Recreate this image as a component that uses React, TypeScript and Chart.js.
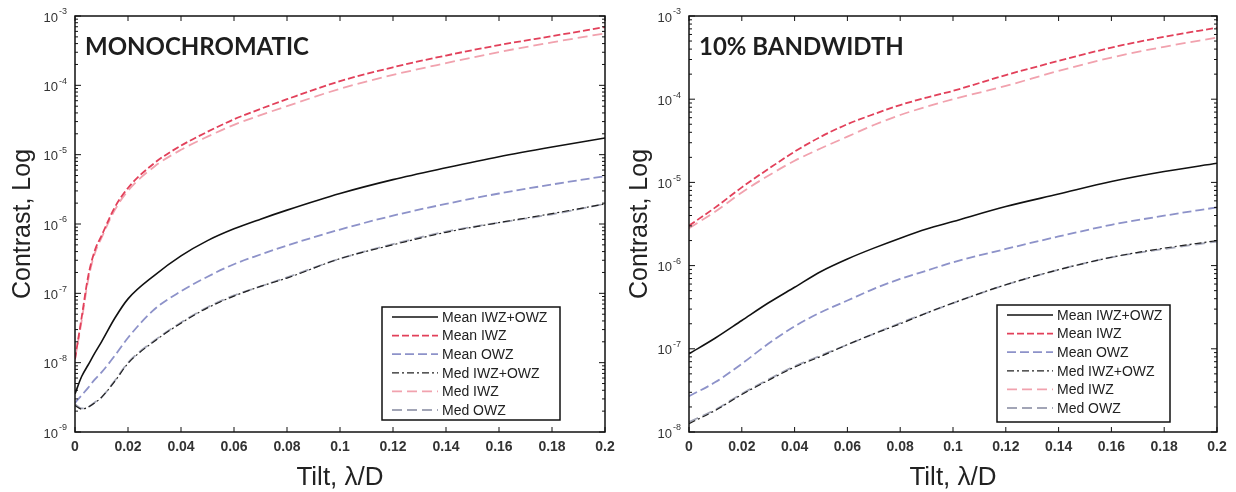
import React, { useEffect, useRef } from 'react';
import { Chart, registerables } from 'chart.js';

Chart.register(...registerables);

// ---------- DATA ----------
const seriesLabels = ['Mean IWZ+OWZ', 'Mean IWZ', 'Mean OWZ', 'Med IWZ+OWZ', 'Med IWZ', 'Med OWZ'];
const xTickValues = [0, 0.02, 0.04, 0.06, 0.08, 0.1, 0.12, 0.14, 0.16, 0.18, 0.2];
const xTickLabels = ['0', '0.02', '0.04', '0.06', '0.08', '0.1', '0.12', '0.14', '0.16', '0.18', '0.2'];

// Monochromatic panel (values are log10 of contrast)
const tiltMono = [0, 0.0025, 0.005, 0.0075, 0.01, 0.015, 0.02, 0.03, 0.04, 0.05, 0.06, 0.07, 0.08, 0.1, 0.12, 0.14, 0.16, 0.18, 0.2];
const monoMeanAll = [-8.45, -8.2, -8.03, -7.86, -7.7, -7.36, -7.08, -6.74, -6.46, -6.24, -6.07, -5.93, -5.8, -5.56, -5.36, -5.19, -5.03, -4.89, -4.76];
const monoMeanIWZ = [-7.95, -7.35, -6.75, -6.38, -6.17, -5.76, -5.48, -5.12, -4.87, -4.67, -4.49, -4.34, -4.2, -3.94, -3.74, -3.57, -3.42, -3.29, -3.16];
const monoMeanOWZ = [-8.58, -8.47, -8.36, -8.24, -8.14, -7.9, -7.64, -7.23, -6.97, -6.76, -6.58, -6.44, -6.31, -6.08, -5.88, -5.71, -5.56, -5.43, -5.31];
const monoMedAll = [-8.62, -8.67, -8.64, -8.58, -8.5, -8.27, -8.01, -7.69, -7.43, -7.21, -7.04, -6.9, -6.78, -6.5, -6.3, -6.12, -5.98, -5.85, -5.71];
const monoMedIWZ = [-7.95, -7.4, -6.8, -6.42, -6.2, -5.8, -5.52, -5.17, -4.93, -4.74, -4.57, -4.43, -4.3, -4.05, -3.85, -3.68, -3.52, -3.38, -3.25];
const monoMedOWZ = [-8.6, -8.66, -8.64, -8.57, -8.5, -8.26, -8.0, -7.68, -7.42, -7.2, -7.03, -6.9, -6.77, -6.5, -6.29, -6.11, -5.98, -5.86, -5.71];

// 10% bandwidth panel (values are log10 of contrast)
const tiltBand = [0, 0.01, 0.02, 0.03, 0.04, 0.05, 0.06, 0.07, 0.08, 0.09, 0.1, 0.12, 0.14, 0.16, 0.18, 0.2];
const bandMeanAll = [-7.06, -6.87, -6.66, -6.45, -6.26, -6.07, -5.92, -5.79, -5.67, -5.56, -5.47, -5.29, -5.14, -4.99, -4.87, -4.77];
const bandMeanIWZ = [-5.52, -5.3, -5.06, -4.84, -4.63, -4.45, -4.3, -4.18, -4.07, -3.98, -3.9, -3.71, -3.54, -3.38, -3.25, -3.14];
const bandMeanOWZ = [-7.57, -7.4, -7.18, -6.94, -6.73, -6.56, -6.42, -6.28, -6.16, -6.06, -5.96, -5.8, -5.65, -5.51, -5.4, -5.3];
const bandMedAll = [-7.9, -7.74, -7.55, -7.38, -7.22, -7.09, -6.95, -6.82, -6.7, -6.57, -6.45, -6.23, -6.05, -5.9, -5.79, -5.7];
const bandMedIWZ = [-5.55, -5.35, -5.12, -4.92, -4.74, -4.59, -4.45, -4.31, -4.19, -4.09, -4.0, -3.84, -3.66, -3.5, -3.37, -3.26];
const bandMedOWZ = [-7.88, -7.73, -7.54, -7.37, -7.21, -7.08, -6.95, -6.82, -6.69, -6.57, -6.45, -6.23, -6.05, -5.9, -5.8, -5.71];

const seriesStyles = [
  { color: '#111111', dash: [] as number[], width: 1.6 },
  { color: '#e2405a', dash: [7, 3], width: 1.8 },
  { color: '#8d92c9', dash: [9, 4], width: 1.8 },
  { color: '#222222', dash: [7, 3, 2, 3], width: 1.2 },
  { color: '#f1a2ae', dash: [10, 5], width: 1.8 },
  { color: '#a2a5b6', dash: [10, 5], width: 1.8 },
];

const FONT = '"Liberation Sans", Arial, sans-serif';

type PanelCfg = {
  title: string;
  tilt: number[];
  series: number[][];
  minExp: number;
  maxExp: number;
  canvasLeft: number;
  canvasWidth: number;
  axisWidth: number;
  padRight: number;
  yTitleX: number;
  legend: { dx: number; dy: number; w: number; h: number };
};

const panels: PanelCfg[] = [
  {
    title: 'MONOCHROMATIC',
    tilt: tiltMono,
    series: [monoMeanAll, monoMeanIWZ, monoMeanOWZ, monoMedAll, monoMedIWZ, monoMedOWZ],
    minExp: -9,
    maxExp: -3,
    canvasLeft: 0,
    canvasWidth: 615,
    axisWidth: 75,
    padRight: 10,
    yTitleX: 30,
    legend: { dx: -223, dy: -125, w: 178, h: 113 },
  },
  {
    title: '10% BANDWIDTH',
    tilt: tiltBand,
    series: [bandMeanAll, bandMeanIWZ, bandMeanOWZ, bandMedAll, bandMedIWZ, bandMedOWZ],
    minExp: -8,
    maxExp: -3,
    canvasLeft: 615,
    canvasWidth: 621,
    axisWidth: 74,
    padRight: 19,
    yTitleX: 32,
    legend: { dx: -220, dy: -127, w: 173, h: 117 },
  },
];

function makeDecor(cfg: PanelCfg) {
  return {
    id: 'decor',
    afterDatasetsDraw(chart: any) {
      const { ctx, chartArea } = chart;
      const { left, right, top, bottom } = chartArea;
      const x = chart.scales.x;
      const y = chart.scales.y;
      const line = (x1: number, y1: number, x2: number, y2: number) => {
        ctx.beginPath();
        ctx.moveTo(x1, y1);
        ctx.lineTo(x2, y2);
        ctx.stroke();
      };
      ctx.save();
      // frame
      ctx.strokeStyle = '#111';
      ctx.lineWidth = 1.5;
      ctx.setLineDash([]);
      ctx.strokeRect(left, top, right - left, bottom - top);
      ctx.lineWidth = 1;
      // x ticks
      xTickValues.forEach((v) => {
        const px = x.getPixelForValue(v);
        line(px, bottom, px, bottom - 5);
        line(px, top, px, top + 5);
      });
      // y ticks
      for (let e = cfg.minExp; e <= cfg.maxExp; e++) {
        const py = y.getPixelForValue(Math.pow(10, e));
        line(left, py, left + 6, py);
        line(right, py, right - 6, py);
        if (e < cfg.maxExp) {
          for (let m = 2; m <= 9; m++) {
            const pm = y.getPixelForValue(m * Math.pow(10, e));
            line(left, pm, left + 3, pm);
            line(right, pm, right - 3, pm);
          }
        }
      }
      // x tick labels
      ctx.fillStyle = '#333';
      ctx.font = `bold 14px ${FONT}`;
      ctx.textAlign = 'center';
      ctx.textBaseline = 'middle';
      xTickValues.forEach((v, i) => {
        ctx.fillText(xTickLabels[i], x.getPixelForValue(v), bottom + 15);
      });
      // y tick labels 10^n
      for (let e = cfg.minExp; e <= cfg.maxExp; e++) {
        const py = y.getPixelForValue(Math.pow(10, e));
        ctx.font = `13px ${FONT}`;
        ctx.textAlign = 'right';
        ctx.fillText('10', left - 17, py + 2);
        ctx.font = `9px ${FONT}`;
        ctx.textAlign = 'left';
        ctx.fillText('-' + Math.abs(e), left - 16, py - 4);
      }
      // axis titles
      ctx.fillStyle = '#222';
      ctx.font = `26px ${FONT}`;
      ctx.textAlign = 'center';
      ctx.textBaseline = 'alphabetic';
      ctx.fillText('Tilt, λ/D', (left + right) / 2, 485);
      ctx.save();
      ctx.translate(cfg.yTitleX, (top + bottom) / 2);
      ctx.rotate(-Math.PI / 2);
      ctx.font = `25px ${FONT}`;
      ctx.fillText('Contrast, Log', 0, 0);
      ctx.restore();
      // panel annotation
      ctx.font = `bold 24px Lato, ${FONT}`;
      ctx.textAlign = 'left';
      ctx.fillStyle = '#1e1e1e';
      ctx.fillText(cfg.title, left + 10, top + 39);
      // legend
      const lb = cfg.legend;
      const bx = right + lb.dx;
      const by = bottom + lb.dy;
      ctx.fillStyle = '#fff';
      ctx.fillRect(bx, by, lb.w, lb.h);
      ctx.strokeStyle = '#111';
      ctx.lineWidth = 1.5;
      ctx.strokeRect(bx, by, lb.w, lb.h);
      const ds = chart.data.datasets;
      ds.forEach((d: any, i: number) => {
        const ly = by + 10 + i * 18.6;
        ctx.strokeStyle = d.borderColor;
        ctx.lineWidth = d.borderWidth;
        ctx.setLineDash(d.borderDash || []);
        line(bx + 10, ly, bx + 56, ly);
        ctx.setLineDash([]);
        ctx.fillStyle = '#222';
        ctx.font = `14px ${FONT}`;
        ctx.textAlign = 'left';
        ctx.textBaseline = 'middle';
        ctx.fillText(d.label, bx + 60, ly + 1);
      });
      ctx.restore();
    },
  };
}

function Panel({ cfg }: { cfg: PanelCfg }) {
  const ref = useRef<HTMLCanvasElement>(null);
  useEffect(() => {
    const canvas = ref.current!;
    const datasets = cfg.series.map((vals, i) => ({
      label: seriesLabels[i],
      data: vals.map((v, j) => ({ x: cfg.tilt[j], y: Math.pow(10, v) })),
      borderColor: seriesStyles[i].color,
      borderDash: seriesStyles[i].dash,
      borderWidth: seriesStyles[i].width,
      pointRadius: 0,
      fill: false,
      cubicInterpolationMode: 'monotone' as const,
    }));
    const chart = new Chart(canvas, {
      type: 'line',
      data: { datasets },
      options: {
        animation: false,
        responsive: false,
        maintainAspectRatio: false,
        layout: { padding: { left: 0, right: cfg.padRight, top: 16, bottom: 0 } },
        plugins: { legend: { display: false }, tooltip: { enabled: false } },
        scales: {
          x: {
            type: 'linear',
            min: 0,
            max: 0.2,
            ticks: { display: false },
            grid: { display: false },
            border: { display: false },
            afterFit: (a: any) => {
              a.height = 60;
            },
          },
          y: {
            type: 'logarithmic',
            min: Math.pow(10, cfg.minExp),
            max: Math.pow(10, cfg.maxExp),
            ticks: { display: false },
            grid: { display: false },
            border: { display: false },
            afterFit: (a: any) => {
              a.width = cfg.axisWidth;
            },
          },
        },
      },
      plugins: [makeDecor(cfg)],
    } as any);
    return () => chart.destroy();
  }, [cfg]);
  return (
    <canvas
      ref={ref}
      width={cfg.canvasWidth}
      height={492}
      style={{ position: 'absolute', left: cfg.canvasLeft, top: 0, width: cfg.canvasWidth, height: 492 }}
    />
  );
}

export default function App() {
  useEffect(() => {
    document.body.style.margin = '0';
  }, []);
  return (
    <div style={{ position: 'relative', width: 1236, height: 492, background: '#fff' }}>
      {panels.map((p) => (
        <Panel key={p.title} cfg={p} />
      ))}
    </div>
  );
}
